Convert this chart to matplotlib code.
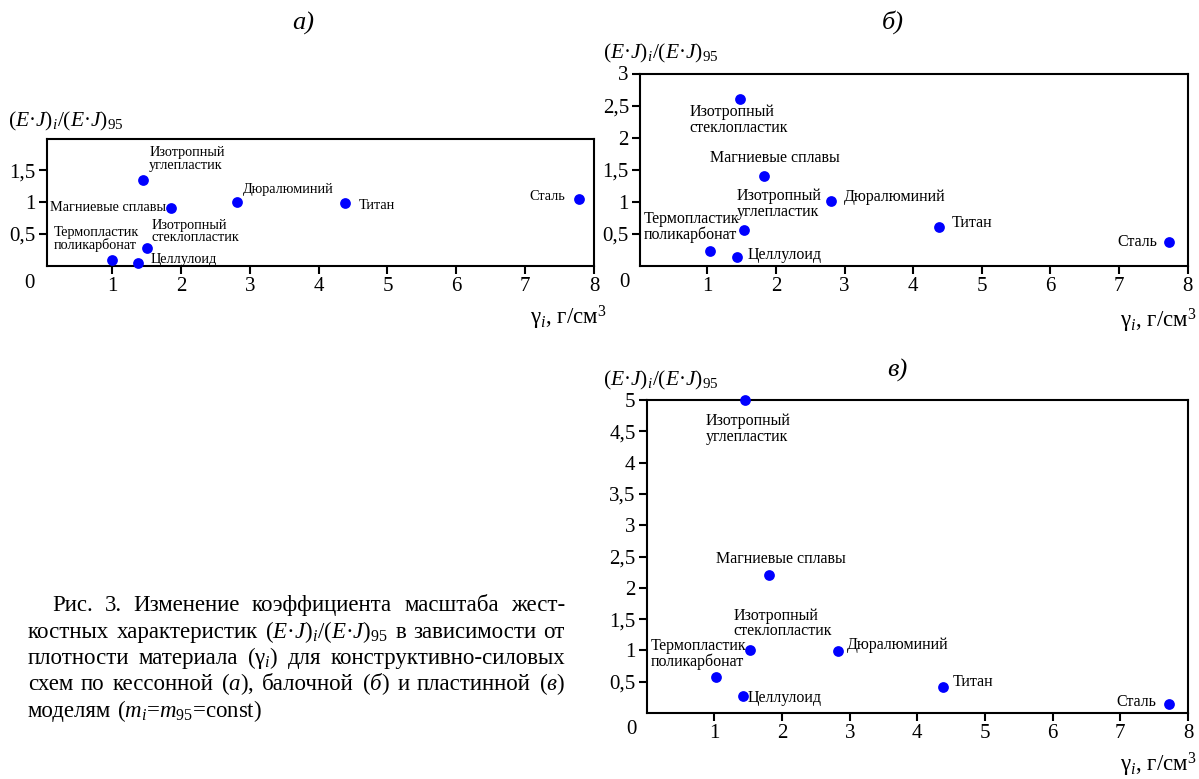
import matplotlib
matplotlib.use("Agg")
import matplotlib.pyplot as plt
from matplotlib.ticker import FuncFormatter

plt.rcParams["font.family"] = ["Liberation Serif", "DejaVu Serif"]
plt.rcParams["mathtext.fontset"] = "custom"
plt.rcParams["mathtext.rm"] = "Liberation Serif"
plt.rcParams["mathtext.it"] = "Liberation Serif:italic"
plt.rcParams["mathtext.bf"] = "Liberation Serif:bold"

# materials, same order in every panel
names = ["Термопластик\nполикарбонат", "Целлулоид", "Изотропный\nстеклопластик",
         "Изотропный\nуглепластик", "Магниевые сплавы", "Дюралюминий", "Титан", "Сталь"]

# а) кессонная схема
x_a = [1.00, 1.38, 1.50, 1.45, 1.85, 2.81, 4.39, 7.78]
y_a = [0.085, 0.04, 0.28, 1.35, 0.90, 1.005, 0.98, 1.05]
# б) балочная схема
x_b = [1.04, 1.44, 1.53, 1.48, 1.83, 2.80, 4.37, 7.73]
y_b = [0.23, 0.14, 0.56, 2.60, 1.40, 1.02, 0.61, 0.37]
names_b = ["Термопластик\nполикарбонат", "Целлулоид", "Изотропный\nуглепластик",
           "Изотропный\nстеклопластик", "Магниевые сплавы", "Дюралюминий", "Титан", "Сталь"]
# в) пластинная схема
x_c = [1.02, 1.42, 1.53, 1.46, 1.81, 2.83, 4.38, 7.72]
y_c = [0.58, 0.27, 1.01, 5.00, 2.21, 0.99, 0.41, 0.15]

x_ticks = [1, 2, 3, 4, 5, 6, 7, 8]
y_ticks_a = [0.5, 1, 1.5]
y_ticks_b = [0.5, 1, 1.5, 2, 2.5, 3]
y_ticks_c = [0.5, 1, 1.5, 2, 2.5, 3, 3.5, 4, 4.5, 5]

caption = [
    "Рис. 3. Изменение коэффициента масштаба жест-",
    r"костных характеристик $(E·J)_i/(E·J)_{95}$ в зависимости от",
    r"плотности материала ($\mathrm{\gamma}_i$) для конструктивно-силовых",
    r"схем по кессонной ($а$), балочной ($б$) и пластинной ($в$)",
    r"моделям ($m_i$=$m_{95}$=const)",
]

# label placement: (ha, dx, dy) in pixels from the point
offs_a = [("right", 27, 21), ("left", 12, 3), ("left", 5, 16), ("left", 6, 21),
          ("right", -5, 1), ("left", 6, 12), ("left", 13, -2), ("right", -14, 2)]
offs_b = [("right", 29, 24), ("left", 10, 2), ("left", -7, 26), ("left", -51, -21),
          ("left", -54, 18), ("left", 13, 4), ("left", 13, 4), ("right", -12, 0)]
offs_c = [("right", 31, 23), ("left", 5, -2), ("left", -17, 26), ("left", -40, -29),
          ("left", -53, 16), ("left", 9, 6), ("left", 10, 5), ("right", -13, 2)]

W, H = 1199, 779
fig = plt.figure(figsize=(W / 100, H / 100), dpi=100)

comma = FuncFormatter(lambda v, p: f"{v:g}".replace(".", ","))


def panel(rect, xs, ys, labels, offs, yticks, ymax, xmin, zero_off, fs):
    ax = fig.add_axes(rect)
    ax.scatter(xs, ys, s=60, color="#0000ff", linewidths=0, zorder=3, clip_on=False)
    for name, x, y, (ha, dx, dy) in zip(labels, xs, ys, offs):
        ax.annotate(name, (x, y), xytext=(dx, dy), textcoords="offset pixels",
                    ha=ha, va="center", multialignment="left", fontsize=fs,
                    linespacing=0.95)
    ax.set_xlim(xmin, 8)
    ax.set_ylim(0, ymax)
    ax.set_xticks(x_ticks)
    ax.set_yticks(yticks)
    ax.yaxis.set_major_formatter(comma)
    ax.tick_params(direction="out", length=6, width=1.5, labelsize=15, pad=2)
    for s in ax.spines.values():
        s.set_linewidth(1.5)
    ax.annotate("0", xy=(0, 0), xycoords="axes fraction", xytext=zero_off,
                textcoords="offset pixels", ha="center", va="center", fontsize=15)
    return ax


def px(x, y):
    return x / W, 1 - y / H


def rect(l, t, r, b):
    return [l / W, 1 - b / H, (r - l) / W, (b - t) / H]


panel(rect(46.7, 139.3, 594, 265.5), x_a, y_a, names, offs_a, y_ticks_a, 1.99, 0.05, (-17, -18), 10.3)
panel(rect(640, 73.5, 1187.7, 266), x_b, y_b, names_b, offs_b, y_ticks_b, 3, 0.02, (-16, -16), 11.5)
panel(rect(646.7, 400, 1188, 713), x_c, y_c, names, offs_c, y_ticks_c, 5, 0.0, (-15, -17), 11.5)

ylab = r"$(E·J)_i/(E·J)_{95}$"
xlab = r"$\mathrm{\gamma}_i$, г/см$^3$"
for t, (x, y) in [("а)", (303, 23)), ("б)", (893, 22)), ("в)", (897, 370))]:
    fig.text(*px(x, y), t, ha="center", va="center", fontsize=19, fontstyle="italic")
for x, y in [(8, 121), (603, 53), (603, 380)]:
    fig.text(*px(x, y), ylab, ha="left", va="center", fontsize=15.5)
for x, y in [(607, 318), (1197, 321), (1197, 765)]:
    fig.text(*px(x, y), xlab, ha="right", va="center", fontsize=16.5)

# caption, justified like the page text
renderer = fig.canvas.get_renderer()
base = [611, 638, 664, 690, 717]
for i, line in enumerate(caption):
    words = line.split(" ")
    x0 = 52 if i == 0 else 28
    texts = [fig.text(0, 1 - base[i] / H, w, fontsize=16.5, va="baseline") for w in words]
    widths = [t.get_window_extent(renderer).width for t in texts]
    if i < len(caption) - 1:
        gap = (565 - x0 - sum(widths)) / (len(words) - 1)
    else:
        gap = 5.5
    x = x0
    for t, w in zip(texts, widths):
        t.set_x(x / W)
        x += w + gap

fig.savefig("out.png", dpi=100)
